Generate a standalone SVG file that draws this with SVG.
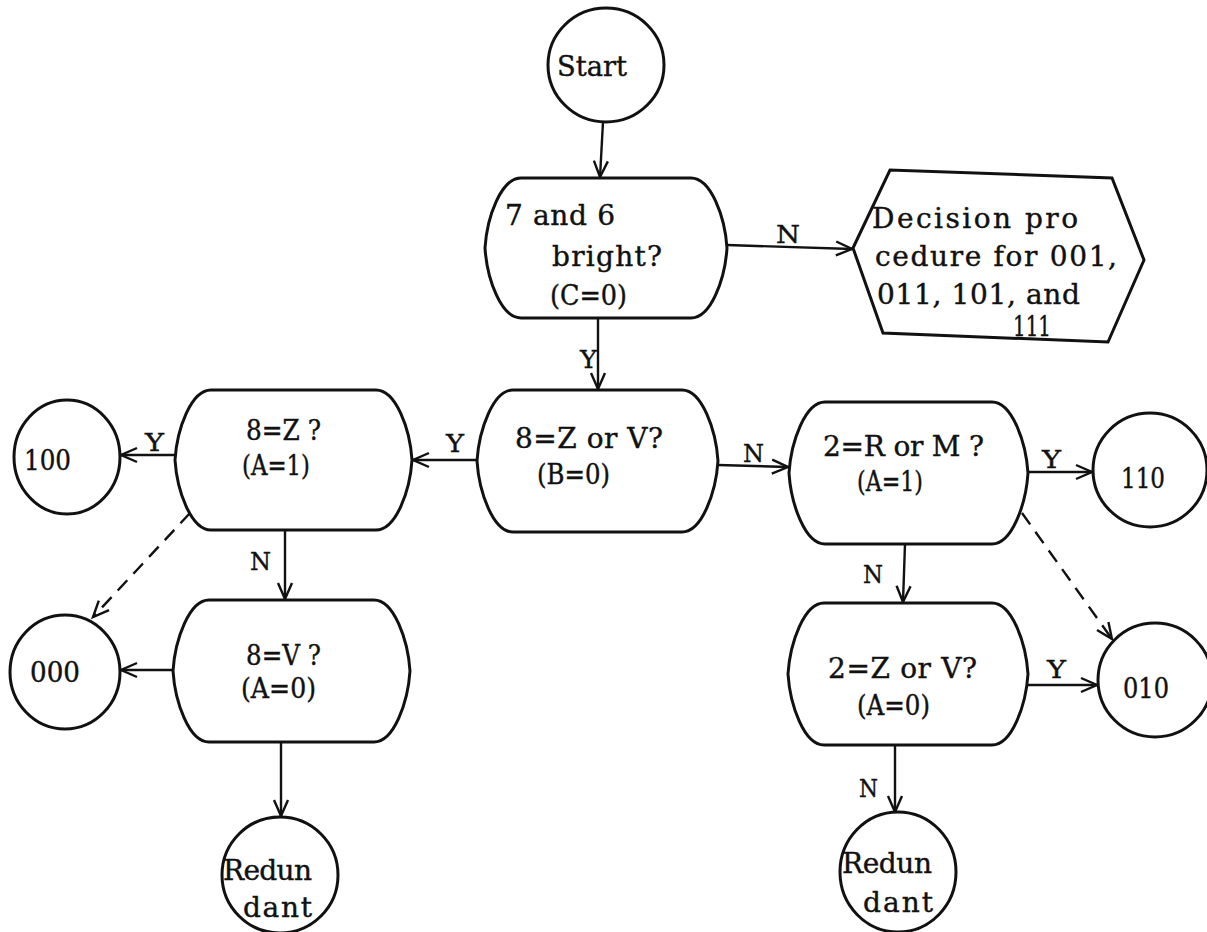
<svg xmlns="http://www.w3.org/2000/svg" width="1207" height="932" viewBox="0 0 1207 932">
<style>
.shape{fill:#fff;stroke:#111;stroke-width:3}
.con{fill:none;stroke:#111;stroke-width:2.4}
.dash{fill:none;stroke:#111;stroke-width:2.4;stroke-dasharray:14 9}
text{font-family:"DejaVu Serif","Liberation Serif",serif;font-size:28px;fill:#111;stroke:#111;stroke-width:0.4}
.lbl{font-size:25px}
.num{font-size:28px}
</style>
<defs>
<marker id="ah" markerUnits="userSpaceOnUse" markerWidth="20" markerHeight="18" refX="17" refY="8" orient="auto" overflow="visible">
<path d="M1,1 L17,8 L1,15" fill="none" stroke="#111" stroke-width="2.4"/>
</marker>
</defs>
<rect width="1207" height="932" fill="#fff"/>

<g id="connectors">
<line class="con" x1="603" y1="122" x2="600" y2="177" marker-end="url(#ah)"/>
<line class="con" x1="727" y1="245" x2="852" y2="249" marker-end="url(#ah)"/>
<line class="con" x1="598" y1="318" x2="598" y2="389" marker-end="url(#ah)"/>
<line class="con" x1="477" y1="460" x2="413" y2="460" marker-end="url(#ah)"/>
<line class="con" x1="175" y1="455" x2="121" y2="455" marker-end="url(#ah)"/>
<line class="con" x1="285" y1="530" x2="285" y2="599" marker-end="url(#ah)"/>
<line class="dash" x1="190" y1="513" x2="93" y2="617" marker-end="url(#ah)"/>
<line class="con" x1="173" y1="670" x2="121" y2="670" marker-end="url(#ah)"/>
<line class="con" x1="281" y1="742" x2="281" y2="816" marker-end="url(#ah)"/>
<line class="con" x1="718" y1="465" x2="788" y2="467" marker-end="url(#ah)"/>
<line class="con" x1="1028" y1="472" x2="1092" y2="472" marker-end="url(#ah)"/>
<line class="con" x1="905" y1="544" x2="903" y2="602" marker-end="url(#ah)"/>
<line class="dash" x1="1022" y1="513" x2="1112" y2="639" marker-end="url(#ah)"/>
<line class="con" x1="1028" y1="685" x2="1097" y2="685" marker-end="url(#ah)"/>
<line class="con" x1="895" y1="745" x2="895" y2="812" marker-end="url(#ah)"/>
<text class="lbl" x="776" y="243" textLength="24" lengthAdjust="spacingAndGlyphs">N</text>
<text class="lbl" x="580" y="368" textLength="17" lengthAdjust="spacingAndGlyphs">Y</text>
<text class="lbl" x="446" y="452" textLength="18" lengthAdjust="spacingAndGlyphs">Y</text>
<text class="lbl" x="145" y="451" textLength="19" lengthAdjust="spacingAndGlyphs">Y</text>
<text class="lbl" x="250" y="570" textLength="21" lengthAdjust="spacingAndGlyphs">N</text>
<text class="lbl" x="743" y="462" textLength="21" lengthAdjust="spacingAndGlyphs">N</text>
<text class="lbl" x="1042" y="468" textLength="19" lengthAdjust="spacingAndGlyphs">Y</text>
<text class="lbl" x="863" y="583" textLength="20" lengthAdjust="spacingAndGlyphs">N</text>
<text class="lbl" x="1047" y="678" textLength="19" lengthAdjust="spacingAndGlyphs">Y</text>
<text class="lbl" x="859" y="797" textLength="19" lengthAdjust="spacingAndGlyphs">N</text>
</g>

<g id="start">
<ellipse class="shape" cx="606" cy="65" rx="58" ry="57"/>
<text x="557" y="76" textLength="70" lengthAdjust="spacingAndGlyphs">Start</text>
</g>

<g id="d1">
<path class="shape" d="M521,178 H691 C711,178 725,217 727,248 C725,279 711,318 691,318 H521 C501,318 487,279 485,248 C487,217 501,178 521,178 Z"/>
<text x="505" y="225" textLength="110" lengthAdjust="spacing">7 and 6</text>
<text x="552" y="266" textLength="110" lengthAdjust="spacing">bright?</text>
<text x="550" y="305" textLength="77" lengthAdjust="spacingAndGlyphs">(C=0)</text>
</g>

<g id="hex">
<polygon class="shape" points="853,248 890,170 1112,178 1144,260 1108,342 883,333"/>
<text x="872" y="228" textLength="206" lengthAdjust="spacing">Decision pro</text>
<text x="875" y="266" textLength="242" lengthAdjust="spacing">cedure for 001,</text>
<text x="877" y="304" textLength="203" lengthAdjust="spacing">011, 101, and</text>
<text x="1013" y="336" textLength="38" lengthAdjust="spacingAndGlyphs">111</text>
</g>

<g id="d2">
<path class="shape" d="M513,390 H682 C702,390 716,430 718,461 C716,492 702,532 682,532 H513 C493,532 479,492 477,461 C479,430 493,390 513,390 Z"/>
<text x="515" y="448" textLength="148" lengthAdjust="spacing">8=Z or V?</text>
<text x="537" y="484" textLength="73" lengthAdjust="spacingAndGlyphs">(B=0)</text>
</g>

<g id="d3">
<path class="shape" d="M211,390 H376 C396,390 410,429 412,460 C410,491 396,530 376,530 H211 C191,530 177,491 175,460 C177,429 191,390 211,390 Z"/>
<text x="246" y="440" textLength="75" lengthAdjust="spacingAndGlyphs">8=Z ?</text>
<text x="242" y="475" textLength="68" lengthAdjust="spacingAndGlyphs">(A=1)</text>
</g>

<g id="n100">
<ellipse class="shape" cx="67" cy="457" rx="53" ry="57"/>
<text class="num" x="24" y="470" textLength="47" lengthAdjust="spacingAndGlyphs">100</text>
</g>

<g id="d4">
<path class="shape" d="M209,600 H374 C394,600 408,640 410,671 C408,702 394,742 374,742 H209 C189,742 175,702 173,671 C175,640 189,600 209,600 Z"/>
<text x="246" y="665" textLength="75" lengthAdjust="spacingAndGlyphs">8=V ?</text>
<text x="241" y="698" textLength="75" lengthAdjust="spacingAndGlyphs">(A=0)</text>
</g>

<g id="n000">
<ellipse class="shape" cx="65" cy="672" rx="55" ry="57"/>
<text class="num" x="30" y="682" textLength="50" lengthAdjust="spacingAndGlyphs">000</text>
</g>

<g id="redun1">
<ellipse class="shape" cx="280" cy="875" rx="58" ry="58"/>
<text x="223" y="880" textLength="89" lengthAdjust="spacing">Redun</text>
<text x="243" y="917" textLength="69" lengthAdjust="spacing">dant</text>
</g>

<g id="d5">
<path class="shape" d="M825,402 H992 C1012,402 1026,442 1028,473 C1026,504 1012,544 992,544 H825 C805,544 791,504 789,473 C791,442 805,402 825,402 Z"/>
<text x="823" y="456" textLength="161" lengthAdjust="spacing">2=R or M ?</text>
<text x="857" y="491" textLength="66" lengthAdjust="spacingAndGlyphs">(A=1)</text>
</g>

<g id="n110">
<ellipse class="shape" cx="1150" cy="470" rx="57" ry="57"/>
<text class="num" x="1121" y="488" textLength="44" lengthAdjust="spacingAndGlyphs">110</text>
</g>

<g id="d6">
<path class="shape" d="M824,603 H992 C1012,603 1026,643 1028,674 C1026,705 1012,745 992,745 H824 C804,745 790,705 788,674 C790,643 804,603 824,603 Z"/>
<text x="828" y="678" textLength="149" lengthAdjust="spacing">2=Z or V?</text>
<text x="857" y="715" textLength="73" lengthAdjust="spacingAndGlyphs">(A=0)</text>
</g>

<g id="n010">
<ellipse class="shape" cx="1155" cy="680" rx="57" ry="57"/>
<text class="num" x="1123" y="698" textLength="46" lengthAdjust="spacingAndGlyphs">010</text>
</g>

<g id="redun2">
<ellipse class="shape" cx="898" cy="872" rx="58" ry="60"/>
<text x="842" y="873" textLength="90" lengthAdjust="spacing">Redun</text>
<text x="863" y="912" textLength="70" lengthAdjust="spacing">dant</text>
</g>
</svg>
